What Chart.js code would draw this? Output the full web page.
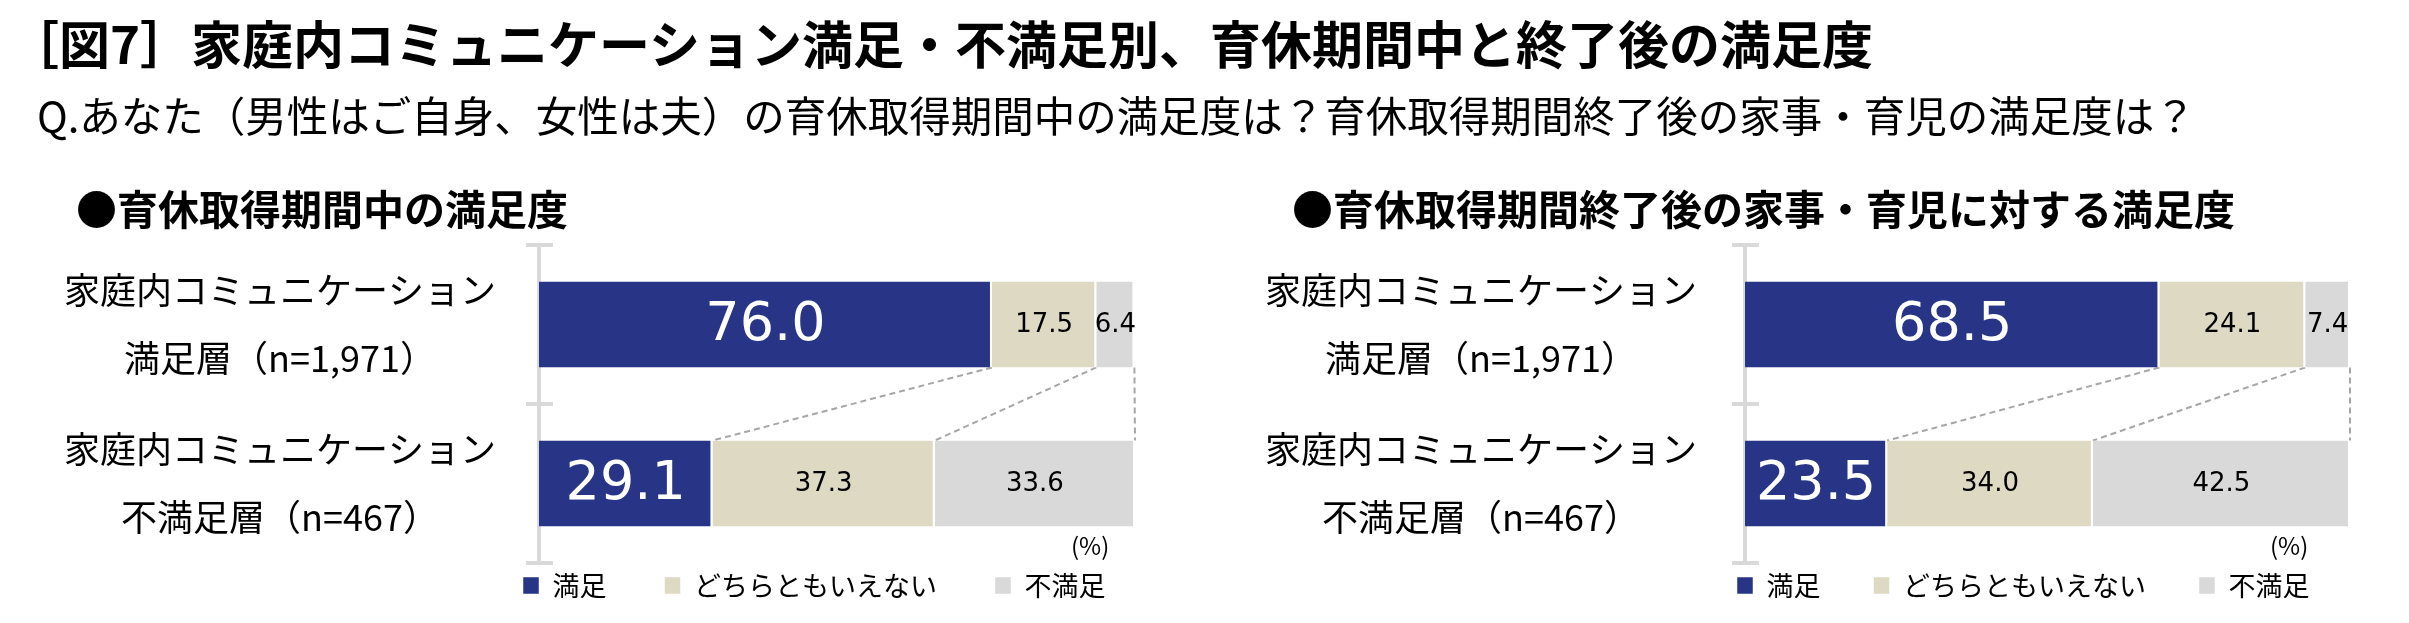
<!DOCTYPE html>
<html>
<head>
<meta charset="utf-8">
<script src="https://cdn.jsdelivr.net/npm/chart.js@4"></script>
<style>
  html, body { margin: 0; padding: 0; background: #ffffff; }
  body { width: 2409px; height: 623px; position: relative; overflow: hidden;
         font-family: "Noto Sans CJK JP", "Noto Sans", sans-serif; color: #000; }
  .t { position: absolute; white-space: nowrap; line-height: 1; z-index: 2; }
  #title { left: 8px; top: 17px; font-size: 51px; font-weight: 700; }
  #sub { left: 37px; top: 94px; font-size: 41.5px; }
  .panel { top: 187px; font-size: 41px; font-weight: 700; }
  #p1 { left: 76px; }
  #p2 { left: 1292px; }
  .pct { top: 533px; font-size: 24px; }
  #pct1 { left: 1071px; }
  #pct2 { left: 2270px; }
  canvas { position: absolute; top: 0; z-index: 1; }
  #c1 { left: 0px; }
  #c2 { left: 1190px; }
</style>
</head>
<body>
<div class="t" id="title">［図7］家庭内コミュニケーション満足・不満足別、育休期間中と終了後の満足度</div>
<div class="t" id="sub">Q.あなた（男性はご自身、女性は夫）の育休取得期間中の満足度は？育休取得期間終了後の家事・育児の満足度は？</div>
<div class="t panel" id="p1">●育休取得期間中の満足度</div>
<div class="t panel" id="p2">●育休取得期間終了後の家事・育児に対する満足度</div>
<div class="t pct" id="pct1">(%)</div>
<div class="t pct" id="pct2">(%)</div>
<canvas id="c1" width="1190" height="623"></canvas>
<canvas id="c2" width="1219" height="623"></canvas>
<script>
// ---- data ----
const categories = [
  ["家庭内コミュニケーション", "満足層（n=1,971）"],
  ["家庭内コミュニケーション", "不満足層（n=467）"]
];
const seriesNames = ["満足", "どちらともいえない", "不満足"];
const duringSatisfied    = [76.0, 29.1];
const duringNeutral      = [17.5, 37.3];
const duringDissatisfied = [6.4, 33.6];
const afterSatisfied     = [68.5, 23.5];
const afterNeutral       = [24.1, 34.0];
const afterDissatisfied  = [7.4, 42.5];

// ---- styles ----
const seriesColors = ["#283587", "#ddd9c3", "#d9d9d9"];
const axisGray = "#d9d9d9";
const NUM_FONT = "'DejaVu Sans', Verdana, sans-serif";
const JP_FONT = "'Noto Sans CJK JP', 'Noto Sans', sans-serif";

// value labels on bars
const valueLabels = {
  id: 'valueLabels',
  afterDatasetsDraw(chart) {
    const ctx = chart.ctx;
    ctx.save();
    ctx.textAlign = 'center';
    ctx.textBaseline = 'middle';
    chart.data.datasets.forEach((ds, d) => {
      const meta = chart.getDatasetMeta(d);
      meta.data.forEach((el, i) => {
        const v = ds.data[i];
        const p = el.getCenterPoint();
        if (d === 0) {
          ctx.fillStyle = '#ffffff';
          ctx.font = `54px ${NUM_FONT}`;
        } else {
          ctx.fillStyle = '#000000';
          ctx.font = `26px ${NUM_FONT}`;
        }
        ctx.fillText(v.toFixed(1), p.x, p.y + 1);
      });
    });
    ctx.restore();
  }
};

// dashed connector lines between the two bars
const connectors = {
  id: 'connectors',
  beforeDatasetsDraw(chart) {
    const ctx = chart.ctx;
    ctx.save();
    ctx.strokeStyle = '#a6a6a6';
    ctx.lineWidth = 2;
    ctx.setLineDash([6, 4]);
    chart.data.datasets.forEach((ds, d) => {
      const meta = chart.getDatasetMeta(d);
      const a = meta.data[0].getProps(['x', 'y', 'height'], true);
      const b = meta.data[1].getProps(['x', 'y', 'height'], true);
      ctx.beginPath();
      ctx.moveTo(a.x, a.y + a.height / 2);
      ctx.lineTo(b.x, b.y - b.height / 2);
      ctx.stroke();
    });
    ctx.restore();
  }
};

// small tick marks extending right of the axis line
const tickExtend = {
  id: 'tickExtend',
  afterDraw(chart) {
    const s = chart.scales.y;
    const ctx = chart.ctx;
    ctx.save();
    ctx.strokeStyle = axisGray;
    ctx.lineWidth = 4;
    for (let i = 0; i <= s.ticks.length; i++) {
      const y = s.getPixelForValue(i - 0.5);
      ctx.beginPath();
      ctx.moveTo(s.right, y);
      ctx.lineTo(s.right + 14, y);
      ctx.stroke();
    }
    ctx.restore();
  }
};

// move legend to its place below the chart
function legendMover(x, y) {
  return {
    id: 'legendMover',
    afterLayout(chart) {
      const lg = chart.legend;
      if (!lg) return;
      const pad = lg.options.labels.padding;
      const dx = x - pad - lg.left;
      const dy = y - pad - lg.top;
      lg.left += dx; lg.right += dx;
      lg.top += dy;
      lg.bottom = y + 45;
      lg.height = lg.bottom - lg.top;
    }
  };
}

function makeChart(id, values, axisWidth, padRight, tickPad, legendX, legendGap) {
  return new Chart(document.getElementById(id), {
    type: 'bar',
    data: {
      labels: categories,
      datasets: values.map((v, k) => ({
        label: seriesNames[k],
        data: v,
        backgroundColor: seriesColors[k],
        borderColor: '#ffffff',
        borderWidth: { top: 0, right: 2, bottom: 0, left: 0 },
        borderSkipped: false,
        barPercentage: 0.54,
        categoryPercentage: 1.0
      }))
    },
    options: {
      indexAxis: 'y',
      responsive: false,
      animation: false,
      events: [],
      layout: { padding: { top: 245, bottom: 20, left: 0, right: padRight } },
      scales: {
        x: { stacked: true, display: false, min: 0, max: 100 },
        y: {
          stacked: true,
          offset: true,
          border: { display: true, color: axisGray, width: 4 },
          grid: { display: true, offset: true, drawOnChartArea: false, drawTicks: true,
                  tickLength: 13, color: axisGray, lineWidth: 4 },
          ticks: {
            color: '#000000',
            crossAlign: 'center',
            padding: tickPad,
            font: { family: JP_FONT, size: 36, lineHeight: 1.89 }
          },
          afterFit(s) { s.width = axisWidth; s.paddingTop = 0; s.paddingBottom = 0; }
        }
      },
      plugins: {
        legend: {
          display: true,
          position: 'bottom',
          align: 'start',
          maxHeight: 40,
          labels: {
            boxWidth: 16, boxHeight: 17, padding: legendGap,
            color: '#000000',
            font: { family: JP_FONT, size: 27 }
          }
        },
        title: { display: false },
        tooltip: { enabled: false }
      }
    },
    plugins: [connectors, valueLabels, tickExtend, legendMover(legendX, 572)]
  });
}

makeChart('c1', [duringSatisfied, duringNeutral, duringDissatisfied], 539, 55, 30, 523, 58);
makeChart('c2', [afterSatisfied, afterNeutral, afterDissatisfied], 555, 59, 35, 547, 53);
</script>
</body>
</html>
